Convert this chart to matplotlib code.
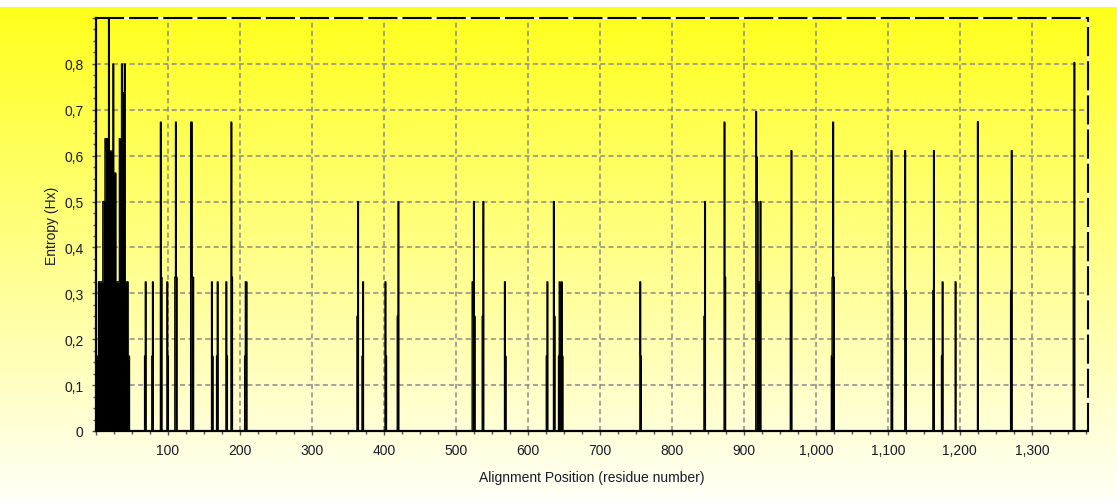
import numpy as np
import matplotlib
matplotlib.use("Agg")
import matplotlib.pyplot as plt
from matplotlib.ticker import MultipleLocator, FuncFormatter

plt.rcParams["font.family"] = ["Liberation Sans", "DejaVu Sans"]

# Entropy (Hx) per alignment position; positions not listed are 0
n_positions = 1378
positions = [
    1, 2, 3, 4, 5, 6, 7, 8, 9, 10, 11, 12, 13, 14, 15, 16, 17, 18, 19, 20,
    21, 22, 23, 24, 25, 26, 27, 28, 29, 30, 31, 32, 33, 34, 35, 36, 37, 38,
    39, 40, 41, 42, 43, 44, 45, 46,
    68, 69, 78, 79, 90, 91, 99, 100, 110, 111, 112, 132, 133, 134, 135,
    161, 162, 168, 169, 181, 182, 188, 189, 207, 208, 209,
    363, 364, 370, 371, 402, 403, 419, 420,
    523, 524, 525, 526, 537, 538, 568, 569,
    626, 627, 636, 637, 643, 644, 647, 648, 756, 757,
    845, 846, 873, 874, 917, 918, 919, 920, 921, 922, 923, 965, 966,
    1022, 1023, 1024, 1025, 1105, 1106, 1124, 1125, 1163, 1164,
    1175, 1176, 1194, 1225, 1271, 1272, 1358, 1359,
]
entropy = [
    0.163, 0.163, 0.163, 0.325, 0.325, 0.325, 0.325, 0.325, 0.325, 0.5,
    0.5, 0.5, 0.637, 0.637, 0.61, 0.637, 0.61, 0.95, 0.61, 0.61,
    0.61, 0.61, 0.61, 0.80, 0.562, 0.562, 0.562, 0.325, 0.325, 0.325, 0.325,
    0.325, 0.637, 0.5, 0.5, 0.80, 0.737, 0.737,
    0.737, 0.80, 0.325, 0.325, 0.325, 0.325, 0.163, 0.163,
    0.163, 0.325, 0.163, 0.325, 0.673, 0.335, 0.325, 0.163, 0.335, 0.673,
    0.335, 0.673, 0.673, 0.335, 0.335,
    0.325, 0.163, 0.163, 0.325, 0.325, 0.163, 0.673, 0.335, 0.163, 0.325,
    0.325,
    0.25, 0.5, 0.163, 0.325, 0.325, 0.163, 0.25, 0.5,
    0.325, 0.25, 0.5, 0.25, 0.25, 0.5, 0.325, 0.163,
    0.163, 0.325, 0.5, 0.25, 0.163, 0.325, 0.325, 0.163, 0.325, 0.163,
    0.25, 0.5, 0.673, 0.335, 0.696, 0.597, 0.5, 0.325, 0.325, 0.325, 0.5,
    0.306, 0.611,
    0.163, 0.335, 0.673, 0.335, 0.611, 0.306, 0.611, 0.306, 0.306, 0.611,
    0.163, 0.325, 0.325, 0.674, 0.306, 0.611, 0.402, 0.803,
]

x = np.arange(0, n_positions + 1)
y = np.zeros_like(x, dtype=float)
y[positions] = entropy

W, H = 1117, 502
fig = plt.figure(figsize=(W / 100, H / 100), dpi=100)

# background: white strip on top, yellow fading to near white downward
rows = np.arange(H)
blue = np.interp(rows, [8, H - 1], [0x1a / 255, 0xf8 / 255])
img = np.ones((H, 1, 3))
img[:, 0, 2] = blue
img[:8, 0, :] = 1.0
bg = fig.add_axes([0, 0, 1, 1], zorder=-1)
bg.imshow(img, aspect="auto", extent=(0, 1, 0, 1))
bg.axis("off")

left, right, top, bottom = 96, 1088, 19, 432
ax = fig.add_axes([left / W, 1 - bottom / H, (right - left) / W, (bottom - top) / H])
ax.set_facecolor("none")

ax.fill_between(x, y, step="mid", color="black", lw=0)
ax.plot(x, y, drawstyle="steps-mid", color="black", lw=1.0)

ax.set_xlim(0, n_positions)
ax.set_ylim(0, 0.9)

ax.xaxis.set_major_locator(MultipleLocator(100))
ax.xaxis.set_minor_locator(MultipleLocator(25))
ax.yaxis.set_major_locator(MultipleLocator(0.1))
ax.yaxis.set_minor_locator(MultipleLocator(0.025))
ax.xaxis.set_major_formatter(FuncFormatter(lambda v, p: "" if v < 50 else f"{v:,.0f}"))
ax.yaxis.set_major_formatter(
    FuncFormatter(lambda v, p: "0" if abs(v) < 1e-9 else ("" if v > 0.85 else f"{v:.1f}".replace(".", ",")))
)
ax.tick_params(which="both", direction="out", color="#555555", width=1)
ax.tick_params(which="major", length=3, labelsize=10, labelcolor="#1a1a2a", pad=6)
ax.tick_params(which="minor", length=2.5)

ax.grid(True, which="major", color="#8a8a8a", linestyle=(0, (3.3, 2.2)), lw=1.1)
ax.set_axisbelow(True)

for s in ("left", "bottom"):
    ax.spines[s].set_color("black")
    ax.spines[s].set_linewidth(1.6)
for s in ("top", "right"):
    ax.spines[s].set_color("black")
    ax.spines[s].set_linewidth(1.5)
    ax.spines[s].set_linestyle((0, (13, 3.4)))
    ax.spines[s].set_zorder(3)
# white under the dashed top/right borders
ax.plot([0, n_positions], [0.9, 0.9], color="white", lw=1.5, clip_on=False, zorder=2.5)
ax.plot([n_positions, n_positions], [0, 0.9], color="white", lw=1.5, clip_on=False, zorder=2.5)

ax.set_xlabel("Alignment Position (residue number)", fontsize=10, color="#1a1a2a", labelpad=9)
ax.set_ylabel("Entropy (Hx)", fontsize=10, color="#1a1a2a", labelpad=4)

fig.savefig("out.png", dpi=100)
